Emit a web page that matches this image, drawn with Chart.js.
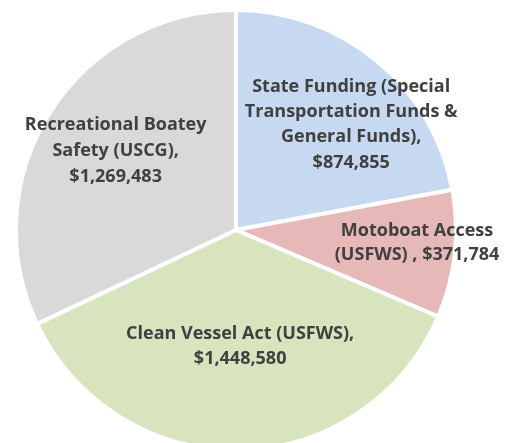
<!DOCTYPE html>
<html>
<head>
<meta charset="utf-8">
<script src="https://cdn.jsdelivr.net/npm/chart.js@4"></script>
<style>
  html, body { margin: 0; padding: 0; background: #fff; }
  #wrap { width: 517px; height: 443px; overflow: hidden; position: relative; }
  #wrap canvas { display: block; }
</style>
</head>
<body>
<div id="wrap"><canvas id="pie" width="517" height="460"></canvas></div>
<script>
// data
const labels = [
  ['State Funding (Special', 'Transportation Funds &', 'General Funds),', '$874,855'],
  ['Motoboat Access', '(USFWS) , $371,784'],
  ['Clean Vessel Act (USFWS),', '$1,448,580'],
  ['Recreational Boatey', 'Safety (USCG),', '$1,269,483']
];
const amounts = [874855, 371784, 1448580, 1269483];
const sliceColors = ['#C6D9F1', '#E6B9B8', '#D7E4BD', '#D9D9D9'];

// label placement: radius fraction + angle nudge (deg) from the slice middle
const labelRadius = [0.71, 0.825, 0.53, 0.655];
const labelNudge = [7.8, -2.3, -1, 1.0];
const lineHeight = [25.3, 23.5, 25, 26];

const sliceLabels = {
  id: 'sliceLabels',
  afterDatasetsDraw(chart) {
    const ctx = chart.ctx;
    const arcs = chart.getDatasetMeta(0).data;
    ctx.save();
    ctx.font = '700 18px "Open Sans", sans-serif';
    ctx.fillStyle = '#404040';
    ctx.textAlign = 'center';
    ctx.textBaseline = 'middle';
    arcs.forEach((arc, i) => {
      const p = arc.getProps(['x', 'y', 'startAngle', 'endAngle', 'outerRadius'], true);
      const mid = (p.startAngle + p.endAngle) / 2 + labelNudge[i] * Math.PI / 180;
      const r = p.outerRadius * labelRadius[i];
      const cx = p.x + Math.cos(mid) * r;
      const cy = p.y + Math.sin(mid) * r;
      const lines = labels[i];
      const lh = lineHeight[i];
      lines.forEach((t, k) => {
        ctx.fillText(t, cx, cy + (k - (lines.length - 1) / 2) * lh);
      });
    });
    ctx.restore();
  }
};

new Chart(document.getElementById('pie'), {
  type: 'pie',
  data: {
    labels: labels.map(l => l.join(' ')),
    datasets: [{
      data: amounts,
      backgroundColor: sliceColors,
      borderColor: '#ffffff',
      borderWidth: 4
    }]
  },
  options: {
    responsive: false,
    animation: false,
    layout: { padding: { left: 14, right: 59, top: 8, bottom: 8 } },
    plugins: {
      legend: { display: false },
      tooltip: { enabled: false }
    }
  },
  plugins: [sliceLabels]
});
</script>
</body>
</html>
